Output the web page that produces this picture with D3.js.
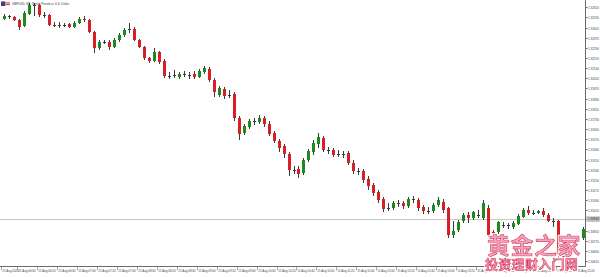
<!DOCTYPE html>
<html>
<head>
<meta charset="utf-8">
<script src="https://cdn.jsdelivr.net/npm/d3@7"></script>
<style>
  html, body { margin: 0; padding: 0; background: #ffffff; }
  svg { display: block; }
</style>
</head>
<body>
<svg id="chart" width="600" height="277"></svg>
<script>
// ---------------- data ----------------
const title = "GBPUSD, M5:  British Pound vs U.S. Dollar";

const open = [
  1.32518,1.32538,1.32530,1.32510,1.32463,1.32558,1.32629,1.32625,1.32550,1.32547,
  1.32471,1.32471,1.32471,1.32479,1.32455,1.32487,1.32514,1.32510,1.32416,1.32290,
  1.32337,1.32337,1.32298,1.32353,1.32392,1.32439,1.32439,1.32353,1.32298,1.32211,
  1.32187,1.32258,1.32187,1.32069,1.32073,1.32061,1.32085,1.32077,1.32085,1.32061,
  1.32101,1.32124,1.32038,1.31919,1.31967,1.31919,1.31927,1.31738,1.31620,1.31667,
  1.31715,1.31707,1.31738,1.31691,1.31620,1.31557,1.31518,1.31454,1.31328,1.31336,
  1.31305,1.31407,1.31470,1.31533,1.31581,1.31486,1.31486,1.31454,1.31454,1.31462,
  1.31384,1.31321,1.31321,1.31257,1.31210,1.31155,1.31100,1.31029,1.31029,1.31068,
  1.31068,1.31045,1.31100,1.31092,1.31037,1.31005,1.31005,1.31053,1.31076,1.31029,
  1.30816,1.30856,1.30927,1.30974,1.30950,1.30974,1.30950,1.31029,1.30840,1.30840,
  1.30895,1.30895,1.30879,1.30903,1.30958,1.31013,1.30990,1.30990,1.31005,1.30974,
  1.30927,1.30927,1.30666,1.30659,1.30698,1.30793,1.30793
];
const high = [
  1.32558,1.32550,1.32542,1.32518,1.32581,1.32644,1.32644,1.32636,1.32573,1.32558,
  1.32495,1.32495,1.32487,1.32487,1.32503,1.32534,1.32542,1.32518,1.32424,1.32353,
  1.32353,1.32353,1.32369,1.32408,1.32447,1.32487,1.32455,1.32361,1.32306,1.32219,
  1.32290,1.32266,1.32203,1.32101,1.32116,1.32101,1.32108,1.32101,1.32108,1.32124,
  1.32148,1.32140,1.32053,1.31990,1.31982,1.31959,1.31943,1.31754,1.31691,1.31731,
  1.31738,1.31762,1.31754,1.31715,1.31636,1.31573,1.31533,1.31470,1.31360,1.31360,
  1.31423,1.31494,1.31565,1.31620,1.31596,1.31510,1.31502,1.31486,1.31478,1.31478,
  1.31407,1.31344,1.31336,1.31281,1.31226,1.31171,1.31116,1.31068,1.31084,1.31092,
  1.31084,1.31116,1.31124,1.31108,1.31053,1.31037,1.31068,1.31116,1.31100,1.31037,
  1.30927,1.30934,1.30990,1.30997,1.31005,1.31013,1.31092,1.31053,1.30856,1.30927,
  1.30919,1.30911,1.30927,1.30982,1.31029,1.31045,1.31013,1.31013,1.31029,1.30990,
  1.30950,1.30934,1.30714,1.30745,1.30808,1.30808,1.30879
];
const low = [
  1.32510,1.32518,1.32503,1.32432,1.32455,1.32550,1.32542,1.32534,1.32526,1.32463,
  1.32455,1.32447,1.32455,1.32447,1.32447,1.32479,1.32495,1.32408,1.32250,1.32274,
  1.32321,1.32274,1.32290,1.32337,1.32376,1.32408,1.32345,1.32290,1.32195,1.32172,
  1.32179,1.32164,1.32053,1.32045,1.32053,1.32045,1.32061,1.32045,1.32045,1.32053,
  1.32085,1.32022,1.31904,1.31904,1.31888,1.31896,1.31715,1.31565,1.31604,1.31651,
  1.31683,1.31691,1.31667,1.31596,1.31541,1.31470,1.31423,1.31281,1.31297,1.31265,
  1.31289,1.31391,1.31447,1.31502,1.31470,1.31454,1.31431,1.31431,1.31423,1.31368,
  1.31297,1.31289,1.31226,1.31171,1.31124,1.31068,1.30997,1.31005,1.31013,1.31037,
  1.31021,1.31029,1.31068,1.31005,1.30982,1.30982,1.30990,1.31037,1.30990,1.30793,
  1.30793,1.30840,1.30911,1.30911,1.30934,1.30950,1.30934,1.30800,1.30777,1.30824,
  1.30871,1.30863,1.30863,1.30895,1.30950,1.30974,1.30974,1.30982,1.30958,1.30919,
  1.30879,1.30627,1.30603,1.30635,1.30682,1.30769,1.30777
];
const close = [
  1.32542,1.32538,1.32510,1.32455,1.32566,1.32629,1.32629,1.32550,1.32550,1.32471,
  1.32471,1.32471,1.32471,1.32455,1.32487,1.32518,1.32506,1.32416,1.32290,1.32337,
  1.32337,1.32298,1.32353,1.32392,1.32432,1.32439,1.32353,1.32298,1.32211,1.32187,
  1.32258,1.32179,1.32069,1.32069,1.32073,1.32085,1.32085,1.32077,1.32061,1.32108,
  1.32132,1.32038,1.31943,1.31975,1.31912,1.31919,1.31738,1.31612,1.31675,1.31715,
  1.31715,1.31738,1.31691,1.31612,1.31557,1.31502,1.31454,1.31328,1.31328,1.31297,
  1.31407,1.31478,1.31541,1.31588,1.31486,1.31486,1.31447,1.31454,1.31454,1.31384,
  1.31321,1.31321,1.31250,1.31202,1.31147,1.31092,1.31021,1.31029,1.31068,1.31068,
  1.31045,1.31100,1.31100,1.31029,1.31005,1.31005,1.31053,1.31092,1.31013,1.30816,
  1.30848,1.30919,1.30974,1.30950,1.30997,1.30974,1.31068,1.30816,1.30824,1.30919,
  1.30895,1.30895,1.30911,1.30966,1.31013,1.30990,1.30990,1.31005,1.30974,1.30927,
  1.30927,1.30659,1.30643,1.30722,1.30793,1.30793,1.30863
];

const yTicks = [
  1.32610,1.32530,1.32450,1.32370,1.32290,1.32210,1.32130,1.32050,1.31970,1.31890,
  1.31810,1.31730,1.31650,1.31570,1.31490,1.31410,1.31330,1.31250,1.31170,1.31090,
  1.31010,1.30930,1.30850,1.30770,1.30690,1.30610
];
const firstDateLabel = "21 Aug 2020";
const xTimeLabels = [
  "21 Aug 06:00","21 Aug 06:20","21 Aug 06:40","21 Aug 07:00","21 Aug 07:20","21 Aug 07:40",
  "21 Aug 08:00","21 Aug 08:20","21 Aug 08:40","21 Aug 09:00","21 Aug 09:20","21 Aug 09:40",
  "21 Aug 10:00","21 Aug 10:20","21 Aug 10:40","21 Aug 11:00","21 Aug 11:20","21 Aug 11:40",
  "21 Aug 12:00","21 Aug 12:20","21 Aug 12:40","21 Aug 13:00","21 Aug 13:20","21 Aug 13:40",
  "21 Aug 14:00","21 Aug 14:20","21 Aug 14:40","21 Aug 15:00","21 Aug 15:20"
];
const bidPrice = 1.30934;
const watermark1 = "黄金之家";
const watermark2 = "投资理财入门网";

// ---------------- layout ----------------
const W = 600, H = 277;
const plotRight = 585.5, plotBottom = 266.5;
const UP = "#1b8c1b", DOWN = "#d81f26", WICK = "#3a3a3a", AXIS = "#6b6b6b", TXT = "#3c3c3c";
const FONT = "'Liberation Sans', Arial, sans-serif";

const svg = d3.select("#chart");
const defs = svg.append("defs");
const filt = defs.append("filter").attr("id", "halo").attr("x", "-10%").attr("y", "-20%")
  .attr("width", "120%").attr("height", "140%");
filt.append("feMorphology").attr("in", "SourceAlpha").attr("operator", "dilate").attr("radius", 1.3).attr("result", "d");
filt.append("feFlood").attr("flood-color", "#ffffff").attr("result", "w");
filt.append("feComposite").attr("in", "w").attr("in2", "d").attr("operator", "in").attr("result", "hw");
const fm = filt.append("feMerge");
fm.append("feMergeNode").attr("in", "hw");
fm.append("feMergeNode").attr("in", "SourceGraphic");

svg.append("rect").attr("width", W).attr("height", H).attr("fill", "#fff");

const n = open.length;
const x = d3.scaleLinear().domain([0, n - 1]).range([4, 583]);
const y = d3.scaleLinear().domain([yTicks[yTicks.length - 1], yTicks[0]]).range([261.05, 7.3]);

const candles = d3.range(n).map(i => ({ i, o: open[i], h: high[i], l: low[i], c: close[i] }));

// bid line
svg.append("line")
  .attr("x1", 0).attr("x2", plotRight)
  .attr("y1", Math.round(y(bidPrice)) - 0.5).attr("y2", Math.round(y(bidPrice)) - 0.5)
  .attr("stroke", "#c8c8c8").attr("stroke-width", 1);

// candles
const g = svg.append("g").attr("shape-rendering", "crispEdges");
const cg = g.selectAll("g.c").data(candles).join("g").attr("class", "c");
cg.append("line")
  .attr("x1", d => Math.round(x(d.i)) + 0.5).attr("x2", d => Math.round(x(d.i)) + 0.5)
  .attr("y1", d => y(d.h)).attr("y2", d => y(d.l))
  .attr("stroke", WICK).attr("stroke-width", 1);
cg.append("rect")
  .attr("x", d => Math.round(x(d.i)) - 1)
  .attr("width", 3)
  .attr("y", d => y(Math.max(d.o, d.c)))
  .attr("height", d => Math.max(1, Math.abs(y(d.o) - y(d.c))))
  .attr("fill", d => d.c > d.o ? UP : (d.c < d.o ? DOWN : WICK));

// axes lines
svg.append("line").attr("x1", plotRight).attr("x2", plotRight).attr("y1", 0).attr("y2", plotBottom)
  .attr("stroke", AXIS).attr("stroke-width", 1);
svg.append("line").attr("x1", 0).attr("x2", plotRight).attr("y1", plotBottom).attr("y2", plotBottom)
  .attr("stroke", AXIS).attr("stroke-width", 1);

// right price axis
const ya = svg.append("g");
yTicks.forEach(v => {
  const yy = Math.round(y(v)) + 0.5;
  ya.append("line").attr("x1", plotRight).attr("x2", plotRight + 2).attr("y1", yy).attr("y2", yy)
    .attr("stroke", AXIS).attr("stroke-width", 1);
  ya.append("text").attr("x", plotRight + 2.5).attr("y", yy).attr("dy", "0.35em")
    .attr("font-family", FONT).attr("font-size", 3).attr("fill", TXT)
    .text(v.toFixed(5));
});
// bid label box
const by = y(bidPrice) - 1;
svg.append("rect").attr("x", plotRight + 0.5).attr("y", by - 2.6).attr("width", 14).attr("height", 5.2)
  .attr("fill", "#c4c4c4");
svg.append("text").attr("x", plotRight + 2.5).attr("y", by).attr("dy", "0.35em")
  .attr("font-family", FONT).attr("font-size", 3).attr("fill", "#222")
  .text(bidPrice.toFixed(5));

// bottom time axis
const xa = svg.append("g");
function xTick(idx, label) {
  const xx = Math.round(x(idx)) - 1.5;
  xa.append("line").attr("x1", xx).attr("x2", xx).attr("y1", plotBottom).attr("y2", plotBottom + 4)
    .attr("stroke", AXIS).attr("stroke-width", 0.6);
  xa.append("text").attr("x", xx + 1).attr("y", 272)
    .attr("font-family", FONT).attr("font-size", 2.9).attr("fill", TXT)
    .text(label);
}
xTick(-0.3, firstDateLabel);
xTimeLabels.forEach((lab, k) => xTick(3 + 4 * k, lab));

// title with flag
const fl = svg.append("g");
fl.append("rect").attr("x", 1).attr("y", 1.5).attr("width", 4.5).attr("height", 4.5).attr("fill", "#2a3f8f");
fl.append("rect").attr("x", 5.5).attr("y", 1.5).attr("width", 4.5).attr("height", 4.5).attr("fill", "#e8e8ee");
fl.append("rect").attr("x", 5.5).attr("y", 2.5).attr("width", 4.5).attr("height", 0.8).attr("fill", "#c8262e");
fl.append("rect").attr("x", 5.5).attr("y", 4.2).attr("width", 4.5).attr("height", 0.8).attr("fill", "#c8262e");
fl.append("rect").attr("x", 2.8).attr("y", 1.5).attr("width", 0.9).attr("height", 4.5).attr("fill", "#c8262e");
svg.append("text").attr("x", 12).attr("y", 5)
  .attr("font-family", FONT).attr("font-size", 3).attr("fill", TXT).text(title);

// watermark (single text each, white halo via filter)
function wm(txt, xx, yy, size, ls) {
  svg.append("text").attr("x", xx).attr("y", yy)
    .attr("font-family", "'Noto Sans CJK SC', sans-serif")
    .attr("font-size", size).attr("font-weight", 700).attr("letter-spacing", ls)
    .attr("fill", "#f3a3bd").attr("stroke", "#d8325f").attr("stroke-width", 0.7)
    .attr("stroke-linejoin", "round").attr("filter", "url(#halo)")
    .text(txt);
}
wm(watermark1, 487, 254, 23, 0.5);
wm(watermark2, 485, 268.5, 13, 0.3);
</script>
</body>
</html>
